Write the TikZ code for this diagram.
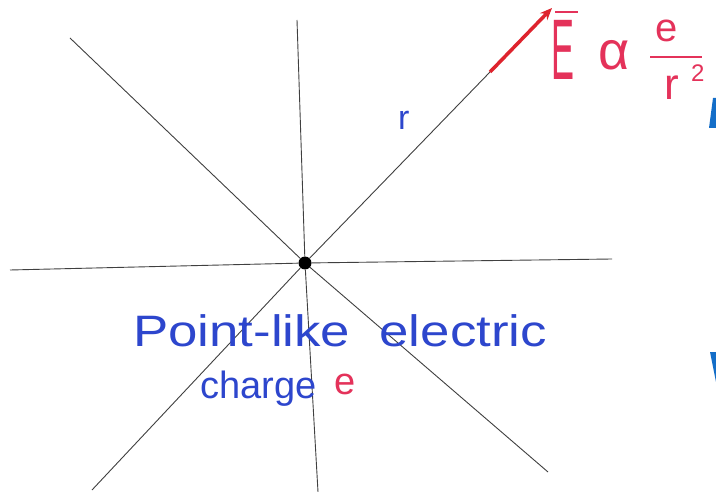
\documentclass[tikz,border=0pt]{standalone}
\usepackage{fontspec}
\setmainfont{Liberation Sans}
\usetikzlibrary{arrows.meta}
\definecolor{pen}{RGB}{45,70,205}
\definecolor{redpen}{RGB}{228,50,90}
\definecolor{arrowred}{RGB}{222,35,45}
\definecolor{slideblue}{RGB}{20,110,200}
\tikzset{
  fieldline/.style={draw=black!75, line width=0.9pt},
  bluetext/.style={text=pen, inner sep=0pt},
  redtext/.style={text=redpen, inner sep=0pt},
}
\begin{document}
\begin{tikzpicture}[x=1pt,y=-1pt]
\useasboundingbox (0,0) rectangle (716,492);
\fill[white] (0,0) rectangle (716,492);
% charge
\node[circle, fill=black, minimum size=13pt, inner sep=0pt] (c) at (305,263) {};
% line ends
\coordinate (w) at (10,270);
\coordinate (e) at (612,259);
\coordinate (n) at (297,20);
\coordinate (s) at (318,492);
\coordinate (nw) at (70,38);
\coordinate (se) at (548,472);
\coordinate (sw) at (92,490);
\coordinate (ne) at (490,72);
\coordinate (tip) at (552,8);
\draw[fieldline] (w) -- (c) -- (e);
\draw[fieldline] (n) -- (c) -- (s);
\draw[fieldline] (nw) -- (c) -- (se);
\draw[fieldline] (sw) -- (c) -- (ne);
\draw[arrowred, line width=3.5pt, -{Stealth[length=12pt,width=10pt]}] (ne) -- (tip);
% labels
\node[bluetext, anchor=base west, font=\fontsize{44}{46}\selectfont] (pl) at (133,347) {\scalebox{1.2}[1]{Point-like\ \ electric}};
\node[bluetext, anchor=base west, font=\fontsize{38}{40}\selectfont] (ch) at (200,398) {charge};
\node[redtext, font=\fontsize{38}{40}\selectfont, anchor=base west] (ec) at (334,394) {e};
\node[bluetext, font=\fontsize{34}{36}\selectfont, anchor=base west] (r) at (398,130) {r};
\node[redtext, font=\fontsize{86}{88}\selectfont, anchor=base west] (E) at (551,80) {\scalebox{0.4}[1]{E}};
\draw[redpen, line width=1.3pt] (555,12) -- (578,12);
\node[redtext, font=\fontsize{54}{56}\selectfont, anchor=base west] (al) at (598,70) {α};
\node[redtext, font=\fontsize{40}{42}\selectfont, anchor=base west] (num) at (655,42) {e};
\draw[redpen, line width=1.3pt] (650,57) -- (702,57);
\node[redtext, font=\fontsize{44}{46}\selectfont, anchor=base west] (den) at (664,100) {r};
\node[redtext, font=\fontsize{24}{26}\selectfont, anchor=base west] (sq) at (691,82) {2};
% cut-off slide marks at right edge
\fill[slideblue] (716,98) -- (716,128) -- (709,128) -- (713,98) -- cycle;
\fill[slideblue] (710,352) -- (716,352) -- (716,382) -- cycle;
\end{tikzpicture}
\end{document}
